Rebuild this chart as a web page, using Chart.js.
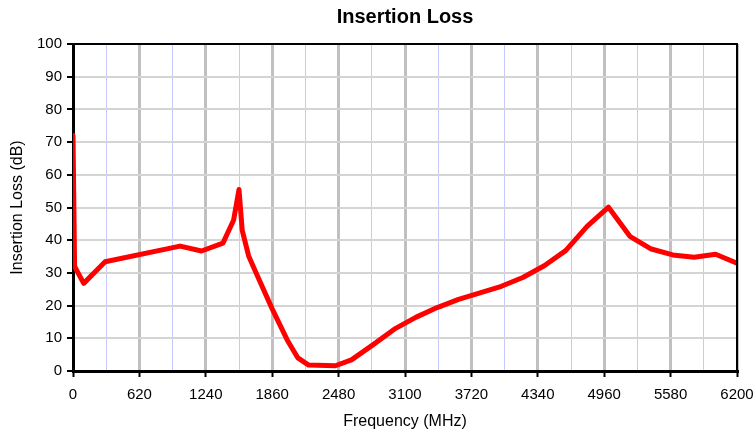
<!DOCTYPE html>
<html>
<head>
<meta charset="utf-8">
<script src="https://cdn.jsdelivr.net/npm/chart.js@4.4.1/dist/chart.umd.min.js"></script>
<style>
html,body{margin:0;padding:0;background:#fff;}
#wrap{width:755px;height:437px;position:relative;}
</style>
</head>
<body>
<div id="wrap"><canvas id="c" width="755" height="437"></canvas></div>
<script>
const chartTitle = "Insertion Loss";
const xAxisTitle = "Frequency (MHz)";
const yAxisTitle = "Insertion Loss (dB)";
const frequencyMHz = [0, 15, 100, 300, 1000, 1200, 1400, 1500, 1550, 1580, 1640, 1710, 1860, 2000, 2100, 2200, 2450, 2600, 2800, 3000, 3200, 3400, 3600, 3800, 4000, 4200, 4400, 4600, 4800, 5000, 5200, 5400, 5600, 5800, 6000, 6200];
const lossDB = [72, 32, 26.8, 33.4, 38.2, 36.7, 39.1, 46.2, 55.5, 43, 35.2, 30, 19, 9.5, 4, 1.8, 1.6, 3.4, 8, 12.8, 16.4, 19.4, 21.9, 23.9, 25.9, 28.6, 32.2, 36.8, 44.2, 50.1, 41.2, 37.3, 35.5, 34.8, 35.7, 33];
const xMin = 0, xMax = 6200, xMajorStep = 620;
const yMin = 0, yMax = 100, yStep = 10;

const points = frequencyMHz.map((f, i) => ({x: f, y: lossDB[i]}));
const isMajor = v => Math.abs(v / xMajorStep - Math.round(v / xMajorStep)) < 1e-6;
const FONT = 'Liberation Sans, Arial, sans-serif';

const borderPlugin = {
  id: 'areaBorder',
  afterDraw(chart) {
    const {ctx, chartArea: a} = chart;
    ctx.save();
    ctx.strokeStyle = '#000';
    ctx.lineWidth = 2;
    ctx.beginPath();
    ctx.moveTo(a.left, a.top); ctx.lineTo(a.right, a.top); ctx.lineTo(a.right, a.bottom);
    ctx.stroke();
    ctx.restore();
  }
};

new Chart(document.getElementById('c'), {
  type: 'scatter',
  data: {
    datasets: [{
      data: points,
      showLine: true,
      borderColor: '#ff0000',
      backgroundColor: '#ff0000',
      borderWidth: 5,
      pointRadius: 0,
      tension: 0,
      borderJoinStyle: 'round',
      borderCapStyle: 'round'
    }]
  },
  options: {
    responsive: false,
    animation: false,
    layout: {padding: {left: 0, right: 18, top: 0, bottom: 0}},
    plugins: {
      legend: {display: false},
      tooltip: {enabled: false},
      title: {
        display: true,
        text: chartTitle,
        fullSize: false,
        color: '#000',
        font: {family: FONT, size: 20, weight: 'bold'},
        padding: {top: 5, bottom: 15}
      }
    },
    scales: {
      x: {
        type: 'linear',
        min: xMin, max: xMax,
        afterBuildTicks(scale) {
          const t = [];
          for (let v = xMin; v <= xMax + 1e-6; v += xMajorStep / 2) t.push({value: v});
          scale.ticks = t;
        },
        afterFit(scale) { scale.height = 66; scale.paddingLeft = 0; scale.paddingRight = 0; },
        ticks: {
          autoSkip: false,
          maxRotation: 0,
          padding: 9,
          color: '#000',
          font: {family: FONT, size: 15},
          callback: v => isMajor(v) ? String(Math.round(v)) : ''
        },
        grid: {
          color: ctx => isMajor(ctx.tick.value) ? '#c0c0c0' : '#c8c8ff',
          lineWidth: ctx => isMajor(ctx.tick.value) ? 3 : 1,
          tickColor: ctx => isMajor(ctx.tick.value) ? '#000' : 'rgba(0,0,0,0)',
          tickWidth: 2,
          tickLength: 6
        },
        border: {color: '#000', width: 3},
        title: {
          display: true,
          text: xAxisTitle,
          color: '#000',
          font: {family: FONT, size: 16},
          padding: {top: 6, bottom: 6}
        }
      },
      y: {
        type: 'linear',
        min: yMin, max: yMax,
        afterFit(scale) { scale.width = 73; },
        ticks: {
          stepSize: yStep,
          padding: 5,
          color: '#000',
          font: {family: FONT, size: 15}
        },
        grid: {
          color: '#d4d4d4',
          lineWidth: 2,
          tickColor: '#000',
          tickWidth: 2,
          tickLength: 6
        },
        border: {color: '#000', width: 3},
        title: {
          display: true,
          text: yAxisTitle,
          color: '#000',
          font: {family: FONT, size: 16},
          padding: {top: 8, bottom: 8}
        }
      }
    }
  },
  plugins: [borderPlugin]
});
</script>
</body>
</html>
